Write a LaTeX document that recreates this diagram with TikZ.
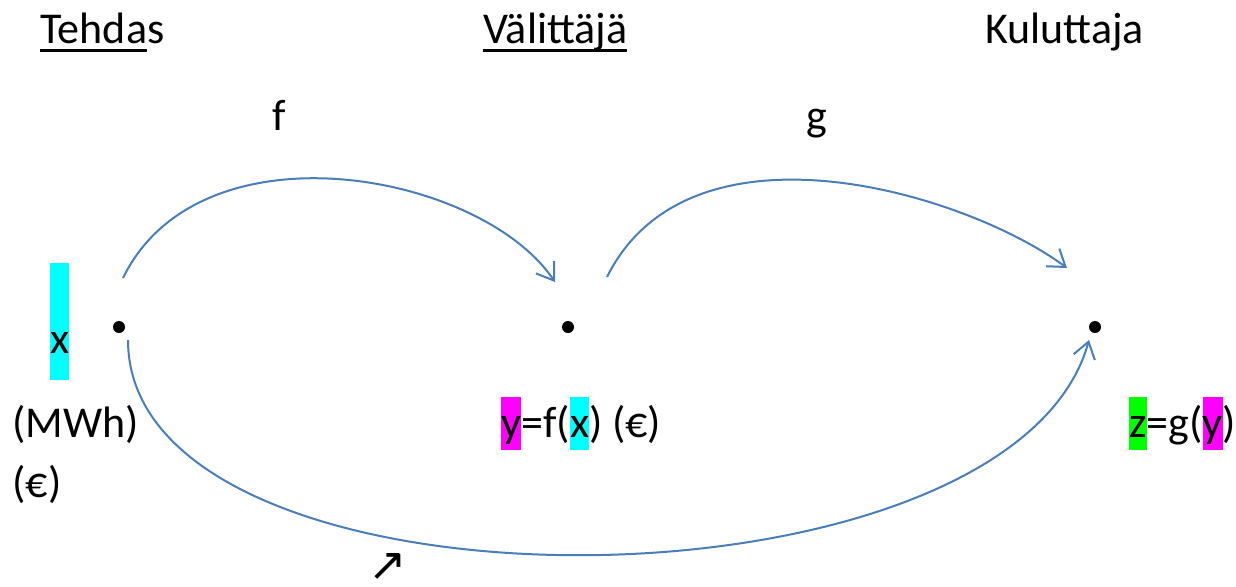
\documentclass[tikz,border=0pt]{standalone}
\usepackage{fontspec}
\setmainfont{Carlito}
\newfontfamily\symfont{DejaVu Sans}
\usetikzlibrary{arrows.meta}
\definecolor{C_ARC}{HTML}{4A7EBB}
\definecolor{C_X}{HTML}{00FFFF}
\definecolor{C_Y}{HTML}{FF00FF}
\definecolor{C_Z}{HTML}{00FF00}
\newcommand{\uln}[1]{\setbox0\hbox{#1}\rlap{\rule[-4.5pt]{\wd0}{1.5pt}}\box0}
\newcommand{\hlt}[2]{{\setlength{\fboxsep}{0pt}\colorbox{#1}{\rule[-0.3em]{0pt}{1.2em}#2}}}
\tikzset{
  %% -- plain text label --
  ch/lbl/.style={anchor=base west, inner sep=0pt, font=\fontsize{22}{26}\selectfont},
  %% -- point of a stage --
  ch/dot/.style={circle, fill=black, inner sep=0pt, minimum size=6pt},
  %% -- mapping arc --
  ch/arc/.style={draw=C_ARC, line width=1pt,
    -{Straight Barb[length=8pt,width=11pt]}},
}

\begin{document}
\begin{tikzpicture}[x=0.5pt, y=-0.5pt]
\useasboundingbox (0,0) rectangle (1236,586);

%% Headings
\node[ch/lbl] (tehdas)  at (40,43)  {\uln{Tehda}s};
\node[ch/lbl] (valitt)  at (483,43) {\uln{Välittäjä}};
\node[ch/lbl] (kulutt)  at (985,43) {Kuluttaja};

%% Function names
\node[ch/lbl] (fname) at (272,130) {f};
\node[ch/lbl] (gname) at (806,130) {g};

%% Points
\node[ch/dot] (tdot) at (119,327) {};
\node[ch/dot] (vdot) at (568,327) {};
\node[ch/dot] (kdot) at (1095,327) {};

%% Values
\node[ch/lbl, fill=C_X, minimum width=9.5pt,
  text height=45pt, text depth=13.5pt, align=center] (xval) at (50,353) {x};
\node[ch/lbl] (mwh)  at (12,437) {(MWh)};
\node[ch/lbl] (teur) at (12,497) {(€)};
\node[ch/lbl] (yval) at (501,437) {\hlt{C_Y}{y}=f(\hlt{C_X}{x}) (€)};
\node[ch/lbl] (zval) at (1129,437) {\hlt{C_Z}{z}=g(\hlt{C_Y}{y})};
\node[ch/lbl, font=\fontsize{23}{27}\symfont, text depth=0pt] (diag) at (368,580) {↗};

%% Arcs
\draw[ch/arc] ([shift={(4,-49)}]tdot.center)
  .. controls (200,120) and (481,172) .. ([shift={(-13,-45)}]vdot.center);
\draw[ch/arc] ([shift={(39,-50)}]vdot.center)
  .. controls (690,110) and (966,193) .. ([shift={(-28,-59)}]kdot.center);
\draw[ch/arc] ([shift={(9,13)}]tdot.center)
  .. controls (128,628) and (1010,625) .. ([shift={(-6,13)}]kdot.center);
\end{tikzpicture}
\end{document}
